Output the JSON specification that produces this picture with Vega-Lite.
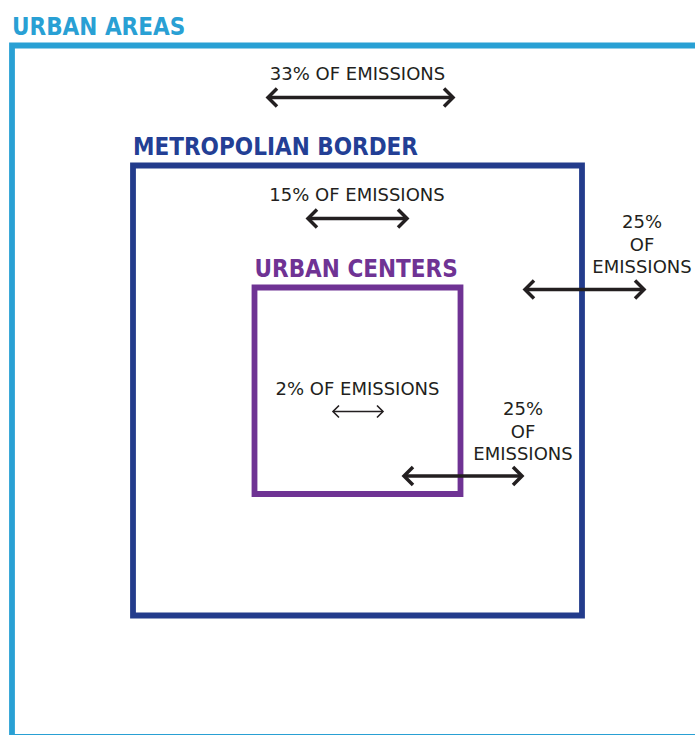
{
  "$schema": "https://vega.github.io/schema/vega-lite/v6.json",
  "width": 695,
  "height": 735,
  "autosize": "none",
  "padding": 0,
  "background": "white",
  "config": {"view": {"stroke": null}},
  "datasets": {
    "boxes": [
      {"name": "URBAN AREAS", "x1": 12, "x2": 730, "y1": 45.5, "y2": 737},
      {"name": "METROPOLIAN BORDER", "x1": 133, "x2": 582, "y1": 165.5, "y2": 615.5},
      {"name": "URBAN CENTERS", "x1": 254.5, "x2": 460.5, "y1": 287.5, "y2": 494}
    ],
    "arrows": [
      {"id": "a33", "kind": "major", "x1": 268, "x2": 453, "y": 97.5},
      {"id": "a15", "kind": "major", "x1": 308, "x2": 407, "y": 218.5},
      {"id": "a25r", "kind": "major", "x1": 525, "x2": 644, "y": 289.5},
      {"id": "a2", "kind": "minor", "x1": 333, "x2": 383, "y": 411.5},
      {"id": "a25c", "kind": "major", "x1": 404, "x2": 522, "y": 476}
    ],
    "labels": [
      {"text": "33% OF EMISSIONS", "x": 357.5, "y": 80},
      {"text": "15% OF EMISSIONS", "x": 357, "y": 201},
      {"text": "2% OF EMISSIONS", "x": 357.5, "y": 395},
      {"text": "25%\nOF\nEMISSIONS", "x": 642, "y": 228},
      {"text": "25%\nOF\nEMISSIONS", "x": 523, "y": 415}
    ]
  },
  "encoding": {
    "x": {"type": "quantitative", "scale": {"domain": [0, 695], "nice": false, "zero": false}, "axis": null},
    "y": {"type": "quantitative", "scale": {"domain": [0, 735], "nice": false, "zero": false, "reverse": true}, "axis": null}
  },
  "layer": [
    {
      "data": {"name": "boxes"},
      "mark": {"type": "rect", "filled": false, "strokeWidth": 5.8, "strokeJoin": "miter"},
      "encoding": {
        "x": {"field": "x1", "type": "quantitative"},
        "x2": {"field": "x2"},
        "y": {"field": "y1", "type": "quantitative"},
        "y2": {"field": "y2"},
        "stroke": {"field": "name", "type": "nominal", "legend": null,
          "scale": {"domain": ["URBAN AREAS", "METROPOLIAN BORDER", "URBAN CENTERS"], "range": ["#29A0D4", "#233C8C", "#6F3394"]}}
      }
    },
    {
      "data": {"name": "boxes"},
      "mark": {"type": "text", "align": "left", "baseline": "alphabetic", "dy": -11, "dx": 0, "font": "DejaVu Sans Condensed, sans-serif", "fontWeight": "bold", "fontSize": 24},
      "encoding": {
        "x": {"field": "x1", "type": "quantitative"},
        "y": {"field": "y1", "type": "quantitative"},
        "text": {"field": "name"},
        "color": {"field": "name", "type": "nominal", "legend": null,
          "scale": {"domain": ["URBAN AREAS", "METROPOLIAN BORDER", "URBAN CENTERS"], "range": ["#29A0D4", "#233F95", "#6F3394"]}}
      }
    },
    {
      "data": {"name": "arrows"},
      "mark": {"type": "rule", "color": "#231F20"},
      "encoding": {
        "x": {"field": "x1", "type": "quantitative"},
        "x2": {"field": "x2"},
        "y": {"field": "y", "type": "quantitative"},
        "strokeWidth": {"field": "kind", "type": "nominal", "legend": null, "scale": {"domain": ["major", "minor"], "range": [3.5, 1.6]}}
      }
    },
    {
      "data": {"name": "arrows"},
      "transform": [{"fold": ["x1", "x2"], "as": ["end", "xpos"]}],
      "mark": {"type": "point", "filled": false, "opacity": 1, "color": "#231F20", "strokeJoin": "miter", "strokeCap": "butt"},
      "encoding": {
        "x": {"field": "xpos", "type": "quantitative"},
        "y": {"field": "y", "type": "quantitative"},
        "shape": {"field": "end", "type": "nominal", "legend": null,
          "scale": {"domain": ["x1", "x2"], "range": ["M 1 -1 L 0 0 L 1 1", "M -1 -1 L 0 0 L -1 1"]}},
        "size": {"field": "kind", "type": "nominal", "legend": null, "scale": {"domain": ["major", "minor"], "range": [324, 144]}},
        "strokeWidth": {"field": "kind", "type": "nominal", "legend": null, "scale": {"domain": ["major", "minor"], "range": [3.5, 1.6]}}
      }
    },
    {
      "data": {"name": "labels"},
      "mark": {"type": "text", "align": "center", "baseline": "alphabetic", "lineBreak": "\n", "lineHeight": 22.6, "font": "DejaVu Sans", "fontSize": 18, "color": "#231F20"},
      "encoding": {
        "x": {"field": "x", "type": "quantitative"},
        "y": {"field": "y", "type": "quantitative"},
        "text": {"field": "text"}
      }
    }
  ]
}
